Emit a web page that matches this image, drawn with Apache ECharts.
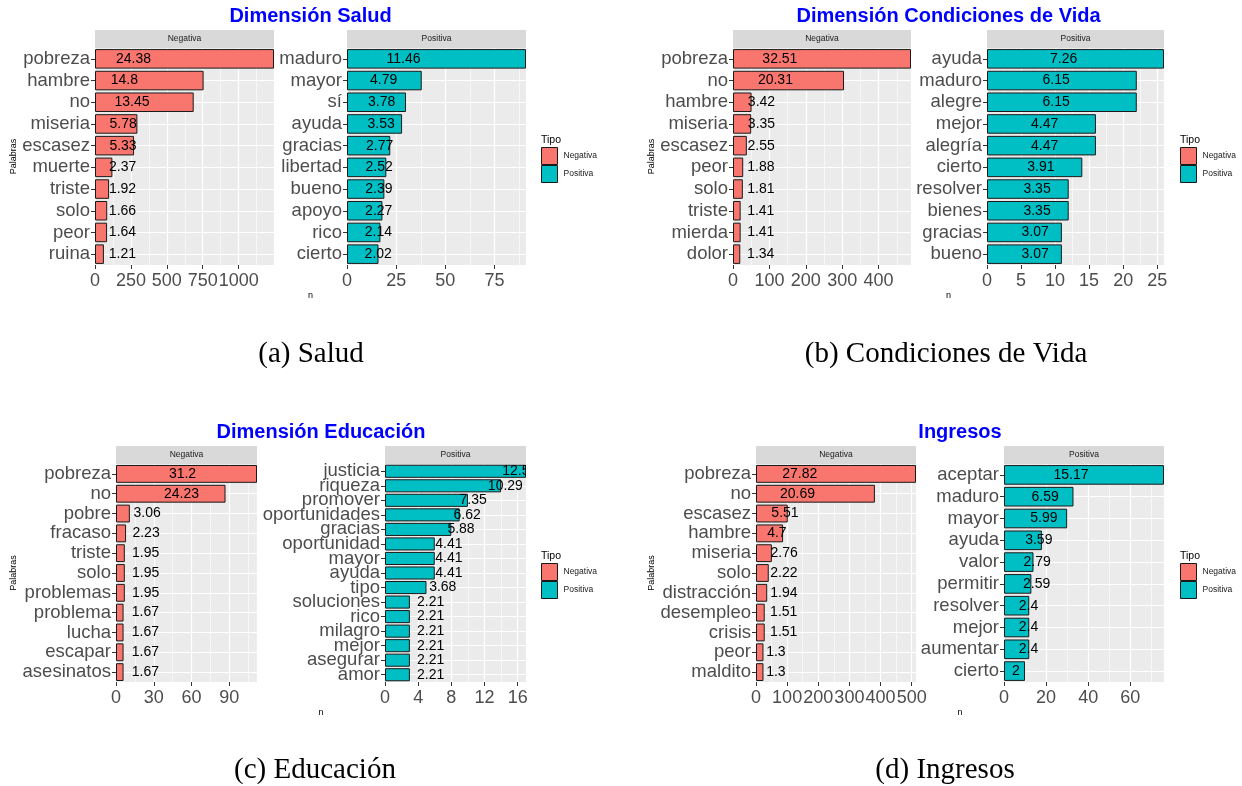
<!DOCTYPE html>
<html>
<head>
<meta charset="utf-8">
<script src="https://cdn.jsdelivr.net/npm/echarts@6/dist/echarts.min.js"></script>
<style>
  html, body { margin: 0; padding: 0; background: #ffffff; }
  #chart { width: 1242px; height: 786px; }
</style>
</head>
<body>
<div id="chart"></div>
<script>
// ---- Dimensión Salud ----
const saludNegWords = ['pobreza', 'hambre', 'no', 'miseria', 'escasez', 'muerte', 'triste', 'solo', 'peor', 'ruina'];
const saludNegN = [1246, 756, 687, 295, 272, 121, 98, 85, 84, 62];
const saludNegPct = [24.38, 14.8, 13.45, 5.78, 5.33, 2.37, 1.92, 1.66, 1.64, 1.21];

const saludPosWords = ['maduro', 'mayor', 'sí', 'ayuda', 'gracias', 'libertad', 'bueno', 'apoyo', 'rico', 'cierto'];
const saludPosN = [91, 38, 30, 28, 22, 20, 19, 18, 17, 16];
const saludPosPct = [11.46, 4.79, 3.78, 3.53, 2.77, 2.52, 2.39, 2.27, 2.14, 2.02];

// ---- Dimensión Condiciones de Vida ----
const condNegWords = ['pobreza', 'no', 'hambre', 'miseria', 'escasez', 'peor', 'solo', 'triste', 'mierda', 'dolor'];
const condNegN = [489, 305, 51, 50, 38, 28, 27, 21, 21, 20];
const condNegPct = [32.51, 20.31, 3.42, 3.35, 2.55, 1.88, 1.81, 1.41, 1.41, 1.34];

const condPosWords = ['ayuda', 'maduro', 'alegre', 'mejor', 'alegría', 'cierto', 'resolver', 'bienes', 'gracias', 'bueno'];
const condPosN = [26, 22, 22, 16, 16, 14, 12, 12, 11, 11];
const condPosPct = [7.26, 6.15, 6.15, 4.47, 4.47, 3.91, 3.35, 3.35, 3.07, 3.07];

// ---- Dimensión Educación ----
const eduNegWords = ['pobreza', 'no', 'pobre', 'fracaso', 'triste', 'solo', 'problemas', 'problema', 'lucha', 'escapar', 'asesinatos'];
const eduNegN = [112, 87, 11, 8, 7, 7, 7, 6, 6, 6, 6];
const eduNegPct = [31.2, 24.23, 3.06, 2.23, 1.95, 1.95, 1.95, 1.67, 1.67, 1.67, 1.67];

const eduPosWords = ['justicia', 'riqueza', 'promover', 'oportunidades', 'gracias', 'oportunidad', 'mayor', 'ayuda', 'tipo', 'soluciones', 'rico', 'milagro', 'mejor', 'asegurar', 'amor'];
const eduPosN = [17, 14, 10, 9, 8, 6, 6, 6, 5, 3, 3, 3, 3, 3, 3];
const eduPosPct = [12.5, 10.29, 7.35, 6.62, 5.88, 4.41, 4.41, 4.41, 3.68, 2.21, 2.21, 2.21, 2.21, 2.21, 2.21];

// ---- Ingresos ----
const ingNegWords = ['pobreza', 'no', 'escasez', 'hambre', 'miseria', 'solo', 'distracción', 'desempleo', 'crisis', 'peor', 'maldito'];
const ingNegN = [514, 382, 102, 87, 51, 41, 36, 28, 28, 24, 24];
const ingNegPct = [27.82, 20.69, 5.51, 4.7, 2.76, 2.22, 1.94, 1.51, 1.51, 1.3, 1.3];

const ingPosWords = ['aceptar', 'maduro', 'mayor', 'ayuda', 'valor', 'permitir', 'resolver', 'mejor', 'aumentar', 'cierto'];
const ingPosN = [76, 33, 30, 18, 14, 13, 12, 12, 12, 10];
const ingPosPct = [15.17, 6.59, 5.99, 3.59, 2.79, 2.59, 2.4, 2.4, 2.4, 2];

// ---- Text ----
const titles = ['Dimensión Salud', 'Dimensión Condiciones de Vida', 'Dimensión Educación', 'Ingresos'];
const captions = ['(a) Salud', '(b) Condiciones de Vida', '(c) Educación', '(d) Ingresos'];
const tipos = ['Negativa', 'Positiva'];
const tickSteps = [250, 25, 100, 5, 30, 4, 100, 20];

// ---- Layout and styling ----
const SANS = '"Liberation Sans", Arial, Helvetica, sans-serif';
const SERIF = '"Liberation Serif", "Times New Roman", serif';
const FILL = { Negativa: '#F8766D', Positiva: '#00BFC4' };
const STRIP_H = 18;

// each figure: facet panel lefts/widths, panel top/height, legend x, y-title x, caption centre
const figures = [
  { lefts: [95, 347], widths: [179, 179], top: 48, height: 217, legendX: 541, yTitleX: 14, capX: 311, capY: 354 },
  { lefts: [733, 987], widths: [178, 177], top: 48, height: 217, legendX: 1180, yTitleX: 652, capX: 946, capY: 354 },
  { lefts: [116, 385], widths: [141, 141], top: 464, height: 218, legendX: 541, yTitleX: 14, capX: 315, capY: 770 },
  { lefts: [756, 1004], widths: [160, 160], top: 464, height: 218, legendX: 1180, yTitleX: 652, capX: 945, capY: 770 }
];

const facets = [
  [saludNegWords, saludNegN, saludNegPct], [saludPosWords, saludPosN, saludPosPct],
  [condNegWords, condNegN, condNegPct], [condPosWords, condPosN, condPosPct],
  [eduNegWords, eduNegN, eduNegPct], [eduPosWords, eduPosN, eduPosPct],
  [ingNegWords, ingNegN, ingNegPct], [ingPosWords, ingPosN, ingPosPct]
];

const LABEL_FONT = '14px ' + SANS;
const measureCtx = document.createElement('canvas').getContext('2d');
function textWidth(txt, font) {
  measureCtx.font = font;
  return measureCtx.measureText(txt).width;
}

const grids = [], xAxes = [], yAxes = [], series = [], graphics = [], legends = [];

figures.forEach((fig, f) => {
  const l0 = fig.lefts[0];
  const r1 = fig.lefts[1] + fig.widths[1];
  const midX = (l0 + r1) / 2;

  // title
  graphics.push({
    type: 'text', x: midX, y: fig.top - STRIP_H - 14,
    style: { text: titles[f], fill: '#0000FF', font: 'bold 20px ' + SANS, align: 'center', verticalAlign: 'middle' }
  });
  // caption
  graphics.push({
    type: 'text', x: fig.capX, y: fig.capY,
    style: { text: captions[f], fill: '#000000', font: '29px ' + SERIF, align: 'center', verticalAlign: 'middle' }
  });
  // y-axis title
  graphics.push({
    type: 'text', x: fig.yTitleX, y: fig.top + fig.height / 2, rotation: Math.PI / 2,
    style: { text: 'Palabras', fill: '#000000', font: '9px ' + SANS, align: 'center', verticalAlign: 'middle' }
  });
  // x-axis title
  graphics.push({
    type: 'text', x: midX, y: fig.top + fig.height + 31,
    style: { text: 'n', fill: '#000000', font: '9px ' + SANS, align: 'center', verticalAlign: 'middle' }
  });
  // legend title
  graphics.push({
    type: 'text', x: fig.legendX, y: fig.top + 92,
    style: { text: 'Tipo', fill: '#000000', font: '10.5px ' + SANS, align: 'left', verticalAlign: 'middle' }
  });
  legends.push({
    data: tipos, orient: 'vertical', left: fig.legendX, top: fig.top + 99,
    padding: 0, itemGap: 0, itemWidth: 16, itemHeight: 17, icon: 'rect',
    selectedMode: false,
    itemStyle: { borderColor: '#1a1a1a', borderWidth: 1 },
    textStyle: { fontSize: 8.5, color: '#1a1a1a', fontFamily: SANS, padding: [0, 0, 0, 1] }
  });

  [0, 1].forEach(side => {
    const k = f * 2 + side;
    const [words, counts, pcts] = facets[k];
    const tipo = tipos[side];
    const left = fig.lefts[side], width = fig.widths[side];

    // facet strip
    graphics.push({
      type: 'rect', shape: { x: left, y: fig.top - STRIP_H, width: width, height: STRIP_H },
      style: { fill: '#D9D9D9' }
    });
    graphics.push({
      type: 'text', x: left + width / 2, y: fig.top - STRIP_H / 2,
      style: { text: tipo, fill: '#1a1a1a', font: '8.5px ' + SANS, align: 'center', verticalAlign: 'middle' }
    });

    grids.push({
      left: left, top: fig.top, width: width, height: fig.height,
      show: true, backgroundColor: '#EBEBEB', borderWidth: 0, containLabel: false
    });

    xAxes.push({
      type: 'value', gridIndex: k, min: 0, max: 'dataMax', interval: tickSteps[k],
      axisLine: { show: false },
      axisTick: { show: true, length: 4, lineStyle: { color: '#333333', width: 1 } },
      axisLabel: {
        show: true, fontSize: 18, color: '#4D4D4D', fontFamily: SANS, margin: 7,
        showMaxLabel: false, hideOverlap: false, formatter: v => String(v)
      },
      splitLine: { show: true, lineStyle: { color: '#FFFFFF', width: 1.2 } },
      minorTick: { show: false, splitNumber: 2 },
      minorSplitLine: { show: true, lineStyle: { color: '#FFFFFF', width: 0.6 } }
    });

    yAxes.push({
      type: 'category', gridIndex: k, data: words, inverse: true,
      axisLine: { show: false },
      axisTick: { show: true, alignWithLabel: true, length: 4, lineStyle: { color: '#333333', width: 1 } },
      axisLabel: { show: true, interval: 0, fontSize: 18.5, color: '#4D4D4D', fontFamily: SANS, margin: 5 },
      splitLine: { show: true, alignWithLabel: true, lineStyle: { color: '#FFFFFF', width: 1.2 } }
    });

    series.push({
      type: 'bar', name: tipo, xAxisIndex: k, yAxisIndex: k,
      data: counts, barCategoryGap: '10%', silent: true,
      itemStyle: { color: FILL[tipo], borderColor: '#1a1a1a', borderWidth: 1 }
    });

    // percentage labels, anchored at the percentage value and shifted right by half their width
    series.push({
      type: 'custom', xAxisIndex: k, yAxisIndex: k, clip: true, silent: true, z: 5,
      data: pcts.map((p, i) => [p, words[i]]),
      encode: { x: 0, y: 1 },
      renderItem: (params, api) => {
        const pt = api.coord([api.value(0), api.value(1)]);
        const txt = String(pcts[params.dataIndex]);
        const w = textWidth(txt, LABEL_FONT);
        return {
          type: 'text', x: pt[0] + w / 2, y: pt[1],
          style: { text: txt, fill: '#000000', font: LABEL_FONT, align: 'left', verticalAlign: 'middle' }
        };
      }
    });
  });
});

const chart = echarts.init(document.getElementById('chart'), null, { renderer: 'canvas' });
chart.setOption({
  backgroundColor: '#FFFFFF',
  animation: false,
  grid: grids,
  xAxis: xAxes,
  yAxis: yAxes,
  legend: legends,
  series: series,
  graphic: graphics
});
</script>
</body>
</html>
